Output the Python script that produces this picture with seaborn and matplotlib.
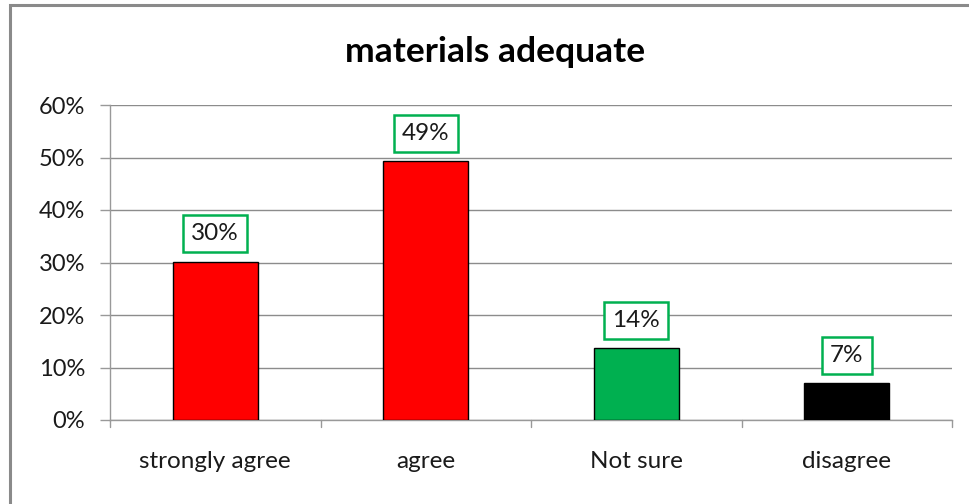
import matplotlib
matplotlib.use("Agg")
import matplotlib.pyplot as plt
import seaborn as sns
import pandas as pd
from matplotlib.patches import Rectangle

categories = ["strongly agree", "agree", "Not sure", "disagree"]
values = [0.301, 0.493, 0.137, 0.070]
bar_colors = ["#FF0000", "#FF0000", "#00B050", "#000000"]
y_ticks = [0, 0.1, 0.2, 0.3, 0.4, 0.5, 0.6]
y_tick_labels = ["0%", "10%", "20%", "30%", "40%", "50%", "60%"]
title = "materials adequate"

sns.set_theme(style="white")
plt.rcParams["font.family"] = ["Lato", "DejaVu Sans"]

df = pd.DataFrame({"category": categories, "value": values})

fig = plt.figure(figsize=(9.7, 5.04), dpi=100)
W, H = 970, 504
ax = fig.add_axes([110 / W, 1 - 420 / H, (952 - 110) / W, (420 - 105) / H])

sns.barplot(data=df, x="category", y="value", hue="category",
            palette=dict(zip(categories, bar_colors)), legend=False,
            width=0.405, edgecolor="black", linewidth=1.0, saturation=1, ax=ax, zorder=3)

ax.set_ylim(0, 0.6)
ax.set_xlim(-0.5, len(categories) - 0.5)
ax.set_yticks(y_ticks)
ax.set_yticklabels(y_tick_labels, fontsize=17, color="#1a1a1a")
ax.set_xticks(range(len(categories)))
ax.set_xticklabels(categories, fontsize=17.5, color="#1a1a1a")
ax.tick_params(axis="x", length=0, pad=22)
ax.tick_params(axis="y", length=7, width=1, color="#999999", direction="out", left=True, pad=11)
for b in [i - 0.5 for i in range(len(categories) + 1)]:
    ax.plot([b, b], [0, -0.013], color="#999999", lw=1, clip_on=False, zorder=2)
ax.set_xlabel("")
ax.set_ylabel("")
ax.yaxis.grid(True, color="#8c8c8c", lw=1)
ax.set_axisbelow(True)
for s in ["top", "right"]:
    ax.spines[s].set_visible(False)
for s in ["left", "bottom"]:
    ax.spines[s].set_color("#999999")
    ax.spines[s].set_linewidth(1)

for i, v in enumerate(values):
    ax.annotate(f"{round(v * 100):.0f}%", xy=(i, v), xytext=(0, 28),
                textcoords="offset pixels", ha="center", va="center",
                fontsize=17.5, color="#1a1a1a", zorder=5,
                bbox=dict(boxstyle="square,pad=0.33", fc="white", ec="#00B050", lw=1.8))

fig.text(495 / W, 1 - 52 / H, title, ha="center", va="center",
         fontsize=25.5, fontweight="bold", color="black")

fig.patches.append(Rectangle((10 / W, -0.1), 1.2, 1 - 5 / H + 0.1,
                             transform=fig.transFigure, fill=False,
                             ec="#8a8a8a", lw=2.2, zorder=0))

fig.savefig("out.png", dpi=100)
